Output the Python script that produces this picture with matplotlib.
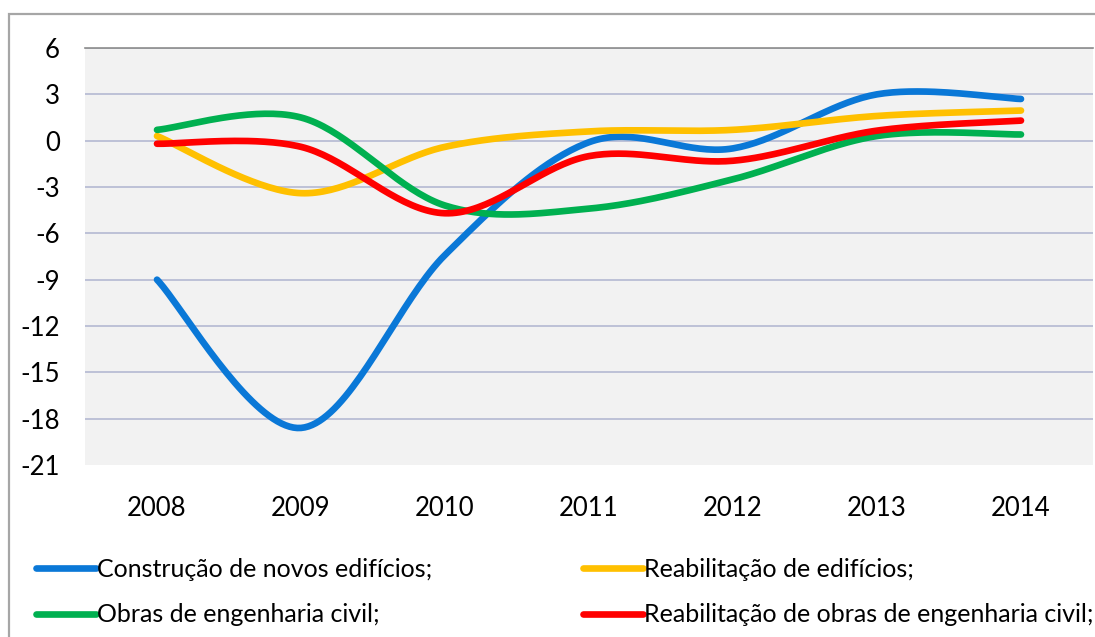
import numpy as np
import matplotlib.pyplot as plt
from matplotlib.patches import Rectangle
from matplotlib.lines import Line2D

years = [2008, 2009, 2010, 2011, 2012, 2013, 2014]
novos = [-9.0, -18.6, -7.4, -0.1, -0.5, 3.0, 2.7]
reab_edif = [0.3, -3.4, -0.4, 0.6, 0.7, 1.6, 1.95]
obras = [0.7, 1.5, -4.2, -4.4, -2.5, 0.3, 0.4]
reab_obras = [-0.2, -0.4, -4.7, -1.0, -1.3, 0.65, 1.3]

labels = ['Construção de novos edifícios;', 'Reabilitação de edifícios;',
          'Obras de engenharia civil;', 'Reabilitação de obras de engenharia civil;']
colors = ['#0A78D7', '#FFC000', '#00B050', '#FF0000']
yticks = list(range(-21, 7, 3))


def smooth(x, y, n=40):
    # Excel-like smoothed line (Catmull-Rom through the points)
    x = np.asarray(x, float)
    y = np.asarray(y, float)
    px = np.concatenate([[x[0]], x, [x[-1]]])
    py = np.concatenate([[y[0]], y, [y[-1]]])
    xs, ys = [], []
    t = np.linspace(0, 1, n)
    for i in range(1, len(px) - 2):
        p0 = np.array([px[i], py[i]])
        p3 = np.array([px[i + 1], py[i + 1]])
        b1 = p0 + (p3 - np.array([px[i - 1], py[i - 1]])) / 6
        b2 = p3 - (np.array([px[i + 2], py[i + 2]]) - p0) / 6
        pts = ((1 - t) ** 3)[:, None] * p0 + (3 * (1 - t) ** 2 * t)[:, None] * b1 \
            + (3 * (1 - t) * t ** 2)[:, None] * b2 + (t ** 3)[:, None] * p3
        xs.append(pts[:, 0])
        ys.append(pts[:, 1])
    return np.concatenate(xs), np.concatenate(ys)


plt.rcParams['font.family'] = ['Lato', 'DejaVu Sans']

fig = plt.figure(figsize=(10.95, 6.37), dpi=100)
ax = fig.add_axes([85 / 1095, 1 - 465 / 637, 1008 / 1095, 417 / 637])
ax.set_facecolor('#F2F2F2')

xpos = np.arange(len(years))
for vals, c in zip([novos, reab_edif, obras, reab_obras], colors):
    sx, sy = smooth(xpos, vals)
    ax.plot(sx, sy, color=c, lw=4.8, solid_capstyle='round', zorder=3)

ax.set_xlim(-0.5, len(years) - 0.5)
ax.set_ylim(-21, 6)
ax.set_yticks(yticks)
ax.set_yticklabels([str(v) for v in yticks])
ax.set_xticks(xpos)
ax.set_xticklabels([str(y) for y in years])
ax.tick_params(axis='y', length=0, pad=18, labelsize=18.5)
ax.tick_params(axis='x', length=0, pad=22, labelsize=18.5)
for v in yticks[1:]:
    ax.axhline(v, color='#B4B9D2', lw=1.2, zorder=1)
for s in ['left', 'right', 'bottom']:
    ax.spines[s].set_visible(False)
ax.spines['top'].set_color('#8C8C8C')
ax.spines['top'].set_linewidth(1.2)

handles = [Line2D([], [], color=c, lw=4.8, solid_capstyle='round') for c in colors]
order = [0, 2, 1, 3]
fig.legend([handles[i] for i in order], [labels[i] for i in order],
           ncol=2, loc='upper left', bbox_to_anchor=(36 / 1095, 1 - 558 / 637),
           frameon=False, fontsize=18, handlelength=2.4, handletextpad=0.05,
           columnspacing=6.0, labelspacing=0.9, borderaxespad=0, borderpad=0)

fig.patches.append(Rectangle((9 / 1095, -0.1), 1.2, 1.1 - 14 / 637,
                             transform=fig.transFigure, fill=False,
                             edgecolor='#A6A6A6', lw=1.6, zorder=0))

fig.savefig('out.png', dpi=100)
